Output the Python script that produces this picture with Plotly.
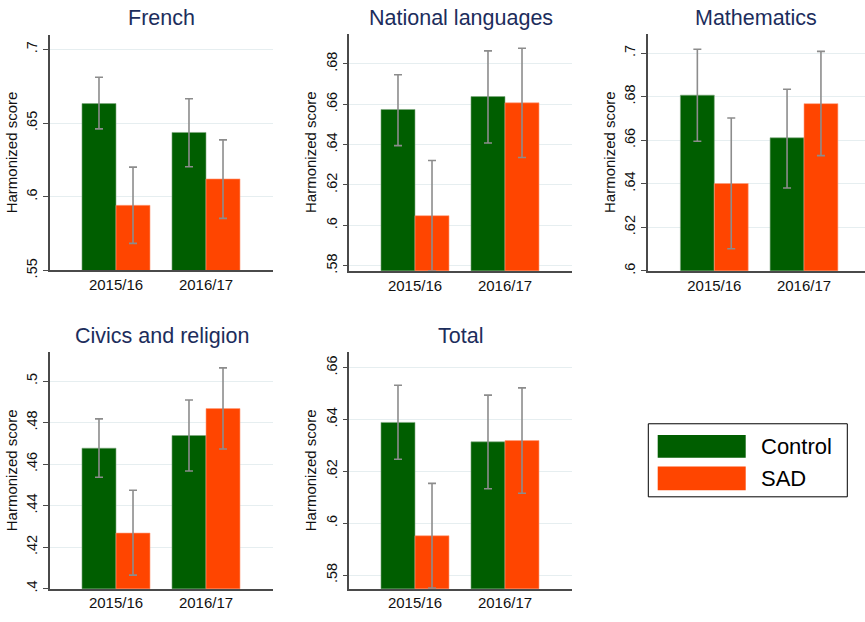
import plotly.graph_objects as go

# Survey years and subjects
years = ["2015/16", "2016/17"]
subjects = ["French", "National languages", "Mathematics", "Civics and religion", "Total"]

# Control group: mean harmonized score and 95% CI bounds per subject
control_mean = [[0.6632, 0.6436], [0.6574, 0.6638], [0.6807, 0.6611], [0.4677, 0.4738], [0.6389, 0.6314]]
control_lo = [[0.6460, 0.6203], [0.6395, 0.6408], [0.6595, 0.6380], [0.4537, 0.4567], [0.6247, 0.6133]]
control_hi = [[0.6810, 0.6665], [0.6746, 0.6864], [0.7018, 0.6834], [0.4818, 0.4909], [0.6532, 0.6494]]

# SAD group: mean harmonized score and 95% CI bounds per subject
sad_mean = [[0.5942, 0.6121], [0.6048, 0.6607], [0.6401, 0.6768], [0.4268, 0.4868], [0.5952, 0.6319]]
sad_lo = [[0.5684, 0.5853], [0.5775, 0.6336], [0.6101, 0.6529], [0.4065, 0.4673], [0.5750, 0.6116]]
sad_hi = [[0.6201, 0.6386], [0.6321, 0.6877], [0.6702, 0.7008], [0.4474, 0.5064], [0.6154, 0.6522]]

# Y axis ranges and tick labels per panel
y_ranges = [[0.55, 0.71], [0.5775, 0.695], [0.60, 0.709], [0.40, 0.514], [0.5748, 0.666]]
y_ticks = [
    [0.55, 0.60, 0.65, 0.70],
    [0.58, 0.60, 0.62, 0.64, 0.66, 0.68],
    [0.60, 0.62, 0.64, 0.66, 0.68, 0.70],
    [0.40, 0.42, 0.44, 0.46, 0.48, 0.50],
    [0.58, 0.60, 0.62, 0.64, 0.66],
]
y_ticktext = [
    [".55", ".6", ".65", ".7"],
    [".58", ".6", ".62", ".64", ".66", ".68"],
    [".6", ".62", ".64", ".66", ".68", ".7"],
    [".4", ".42", ".44", ".46", ".48", ".5"],
    [".58", ".6", ".62", ".64", ".66"],
]

W, H = 865, 622
GREEN = "#005e00"
ORANGE = "#ff4500"
ERR = "#8c8c8c"
TITLE_C = "#1c2d5c"
AXIS_C = "#4a4a4a"
GRID_C = "#e6eef0"
FONT = "Liberation Sans, Arial, sans-serif"

# Panel plot areas in pixels: (left, right, top, bottom), plus x positions of the two group centres
panels = [
    (50, 273, 35, 274, 116, 206),
    (349.3, 571.7, 34, 274.3, 415, 505),
    (647.7, 865, 34, 274.3, 714.3, 804),
    (50, 273, 356.7, 596.3, 116, 206),
    (349.3, 572, 356.7, 596.3, 415, 505),
]
title_y = [18, 18, 18, 340, 340]

fig = go.Figure()
layout = {}
annotations = []
shapes = []

for i, (subj, (l, r, t, b, c0, c1)) in enumerate(zip(subjects, panels)):
    n = "" if i == 0 else str(i + 1)
    xa, ya = "x" + n, "y" + n
    sp = c1 - c0
    xr = [(l - c0) / sp, (r - c0) / sp]

    cm, cl, ch = control_mean[i], control_lo[i], control_hi[i]
    sm, sl, sh = sad_mean[i], sad_lo[i], sad_hi[i]

    fig.add_trace(go.Bar(
        x=[0, 1], y=cm, name="Control", xaxis=xa, yaxis=ya, showlegend=False,
        marker=dict(color=GREEN, line=dict(color="#7fa87f", width=0.6)),
        error_y=dict(type="data", symmetric=False,
                     array=[h - m for h, m in zip(ch, cm)],
                     arrayminus=[m - lo for m, lo in zip(cm, cl)],
                     color=ERR, thickness=1.6, width=4),
    ))
    fig.add_trace(go.Bar(
        x=[0, 1], y=sm, name="SAD", xaxis=xa, yaxis=ya, showlegend=False,
        marker=dict(color=ORANGE, line=dict(color="#ffa07f", width=0.6)),
        error_y=dict(type="data", symmetric=False,
                     array=[h - m for h, m in zip(sh, sm)],
                     arrayminus=[m - lo for m, lo in zip(sm, sl)],
                     color=ERR, thickness=1.6, width=4),
    ))

    layout["xaxis" + n] = dict(
        domain=[l / W, r / W], anchor=ya, range=xr,
        tickvals=[0, 1], ticktext=years, showgrid=False, zeroline=False,
        showline=True, linecolor=AXIS_C, linewidth=1.5,
        ticks="", tickfont=dict(family=FONT, size=15, color="#111111"),
    )
    layout["yaxis" + n] = dict(
        domain=[1 - b / H, 1 - t / H], anchor=xa, range=y_ranges[i],
        tickvals=y_ticks[i], ticktext=y_ticktext[i], tickangle=-90,
        showgrid=True, gridcolor=GRID_C, gridwidth=1, zeroline=False,
        showline=True, linecolor=AXIS_C, linewidth=1.5,
        ticks="outside", ticklen=5, tickcolor=AXIS_C, tickwidth=1.2,
        tickfont=dict(family=FONT, size=14.5, color="#111111"),
        title=dict(text="Harmonized score", standoff=3,
                   font=dict(family=FONT, size=15, color="#111111")),
    )
    annotations.append(dict(
        text=subj, x=(l + min(r, l + 223)) / 2 / W, y=1 - title_y[i] / H,
        xref="paper", yref="paper", showarrow=False, xanchor="center", yanchor="middle",
        font=dict(family=FONT, size=21.5, color=TITLE_C),
    ))

# Legend box with group swatches
shapes.append(dict(type="rect", xref="paper", yref="paper",
                   x0=648.3 / W, x1=847.3 / W, y0=1 - 503.3 / H, y1=1 - 429.3 / H,
                   line=dict(color="#000000", width=1), fillcolor="white"))
for label, color, y0p, y1p in [("Control", GREEN, 440.7, 463.7), ("SAD", ORANGE, 472.7, 496.7)]:
    shapes.append(dict(type="rect", xref="paper", yref="paper",
                       x0=657.7 / W, x1=745.7 / W, y0=1 - y1p / H, y1=1 - y0p / H,
                       line=dict(width=0), fillcolor=color))
    annotations.append(dict(
        text=label, x=759 / W, y=1 - (y0p + y1p) / 2 / H, xref="paper", yref="paper",
        showarrow=False, xanchor="left", yanchor="middle",
        font=dict(family=FONT, size=22, color="#000000"),
    ))

fig.update_layout(
    width=W, height=H, margin=dict(l=0, r=0, t=0, b=0),
    paper_bgcolor="white", plot_bgcolor="white",
    barmode="group", bargap=0.244, bargroupgap=0,
    annotations=annotations, shapes=shapes, showlegend=False,
    font=dict(family=FONT),
    **layout,
)

fig.write_html("out.html")
